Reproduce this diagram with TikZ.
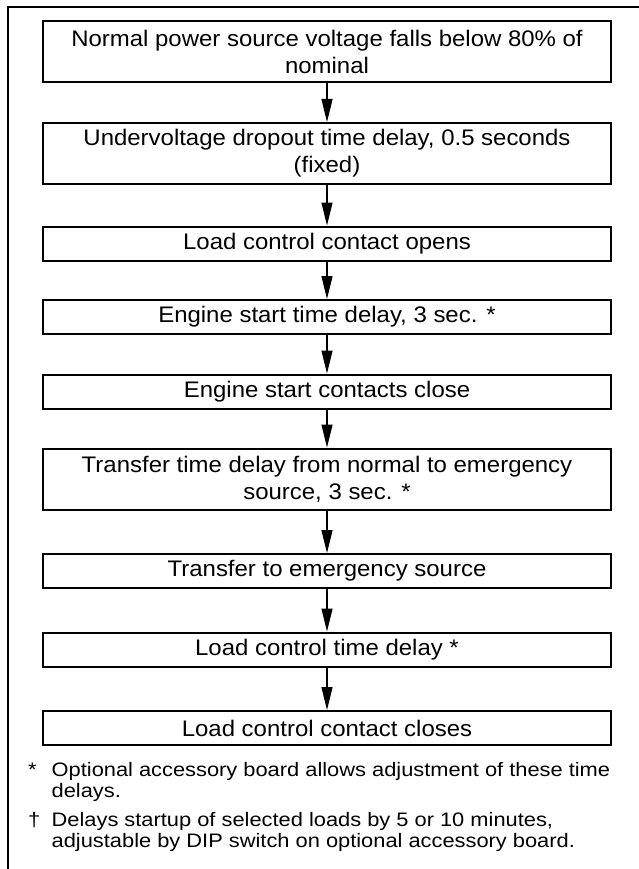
\documentclass[tikz,border=0pt]{standalone}
\usepackage{fontspec}
\setmainfont{Liberation Sans}
\newfontfamily\boxfont[FakeStretch=1.065]{Liberation Sans}
\newfontfamily\notefont[FakeStretch=1.12]{Liberation Sans}
\usetikzlibrary{arrows.meta}
\begin{document}
\begin{tikzpicture}[x=1pt,y=-1pt,
  stepbox/.style={draw,line width=2pt,minimum width=568pt,inner sep=0pt,align=center,font=\boxfont\fontsize{22.5}{27}\selectfont},
  onebox/.style={stepbox,minimum height=34pt},
  twobox/.style={stepbox,minimum height=61pt},
  flow/.style={line width=1.2pt,-{Triangle[length=23pt,width=11pt]}},
  frameline/.style={line width=2pt},
  note/.style={anchor=base west,inner sep=0pt,align=left,font=\notefont\fontsize{19.5}{21.5}\selectfont},
  notemark/.style={anchor=base west,inner sep=0pt,font=\notefont\fontsize{19.5}{21.5}\selectfont}]
\useasboundingbox (0,0) rectangle (639,869);
\coordinate (fl) at (7.5,869);
\coordinate (fc) at (7.5,7.5);
\coordinate (fr) at (639,7.5);
\draw[frameline] (fl) -- (fc) -- (fr);
\node[twobox] (b1) at (327,51.5) {Normal power source voltage falls below 80\% of\\nominal};
\node[twobox] (b2) at (327,153.5) {Undervoltage dropout time delay, 0.5 seconds\\(fixed)};
\node[onebox] (b3) at (327,243.5) {Load control contact opens};
\node[onebox] (b4) at (327,317) {Engine start time delay, 3 sec. *};
\node[onebox] (b5) at (327,391.5) {Engine start contacts close};
\node[twobox] (b6) at (327,479) {Transfer time delay from normal to emergency\\source, 3 sec. *};
\node[onebox] (b7) at (327,571) {Transfer to emergency source};
\node[onebox] (b8) at (327,649.5) {Load control time delay *};
\node[onebox] (b9) at (327,728) {Load control contact closes};
\foreach \a/\b in {b1/b2,b2/b3,b3/b4,b4/b5,b5/b6,b6/b7,b7/b8,b8/b9}
  \draw[flow] (\a.south) -- (\b.north);
\node[notemark] (m1) at (28,776) {*};
\node[note] (n1) at (51.5,797.5) {Optional accessory board allows adjustment of these time\\delays.};
\node[notemark] (m2) at (28,826) {†};
\node[note] (n2) at (51.5,847.5) {Delays startup of selected loads by 5 or 10 minutes,\\adjustable by DIP switch on optional accessory board.};
\end{tikzpicture}
\end{document}
